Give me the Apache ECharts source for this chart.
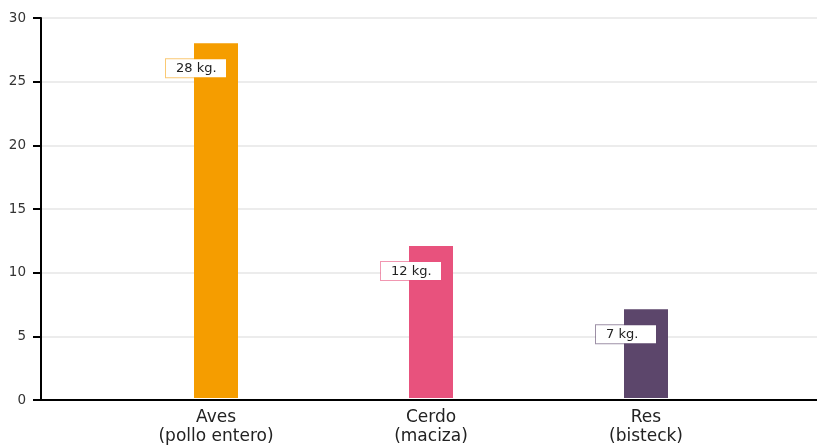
<!DOCTYPE html>
<html><head><meta charset="utf-8">
<script src="https://cdn.jsdelivr.net/npm/echarts@6/dist/echarts.min.js"></script>
<style>html,body{margin:0;padding:0;background:#fff}#c{width:817px;height:446px}</style>
</head><body><div id="c"></div>
<script>
const categories = ['Aves\n(pollo entero)', 'Cerdo\n(maciza)', 'Res\n(bisteck)'];
const values = [28, 12, 7];
const barLabels = ['28 kg.', '12 kg.', '7 kg.'];
const colors = ['#f59d00', '#e8527d', '#5c466b'];
const borderColors = ['rgba(245,157,0,0.55)', 'rgba(232,82,125,0.6)', 'rgba(92,70,107,0.6)'];
const yTicks = [0, 5, 10, 15, 20, 25, 30];

const chart = echarts.init(document.getElementById('c'));
chart.setOption({
  animation: false,
  grid: [
    {left: 41, right: 0, top: 18, bottom: 46},
    {left: 108.5, width: 645, top: 18, bottom: 46}
  ],
  xAxis: [
    {gridIndex: 0, type: 'category', data: [''], axisLine: {lineStyle: {color: '#000', width: 2}},
     axisTick: {show: false}, axisLabel: {show: false}},
    {gridIndex: 1, type: 'category', data: categories, axisLine: {show: false}, axisTick: {show: false},
     axisLabel: {fontFamily: 'DejaVu Sans', fontSize: 17, color: '#222', lineHeight: 19, margin: 10}}
  ],
  yAxis: [
    {gridIndex: 0, type: 'value', min: yTicks[0], max: yTicks[yTicks.length - 1], interval: 5,
     axisLine: {show: true, lineStyle: {color: '#000', width: 2}},
     axisTick: {show: true, length: 8, lineStyle: {color: '#000', width: 2}},
     axisLabel: {fontFamily: 'DejaVu Sans', fontSize: 13.5, color: '#333', margin: 15},
     splitLine: {lineStyle: {color: '#e6e6e6', width: 1.5}}},
    {gridIndex: 1, type: 'value', min: yTicks[0], max: yTicks[yTicks.length - 1], interval: 5, show: false}
  ],
  series: [{
    type: 'bar', xAxisIndex: 1, yAxisIndex: 1, barWidth: 44,
    data: values.map((v, i) => ({
      value: v,
      itemStyle: {color: colors[i]},
      label: {borderColor: borderColors[i]}
    })),
    label: {
      show: true,
      position: [-28, 16],
      formatter: p => barLabels[p.dataIndex],
      fontFamily: 'DejaVu Sans', fontSize: 13, color: '#222',
      backgroundColor: '#fff', borderWidth: 1,
      padding: [3, 10, 2, 10], width: 40, align: 'left', verticalAlign: 'top'
    }
  }]
});
</script></body></html>
